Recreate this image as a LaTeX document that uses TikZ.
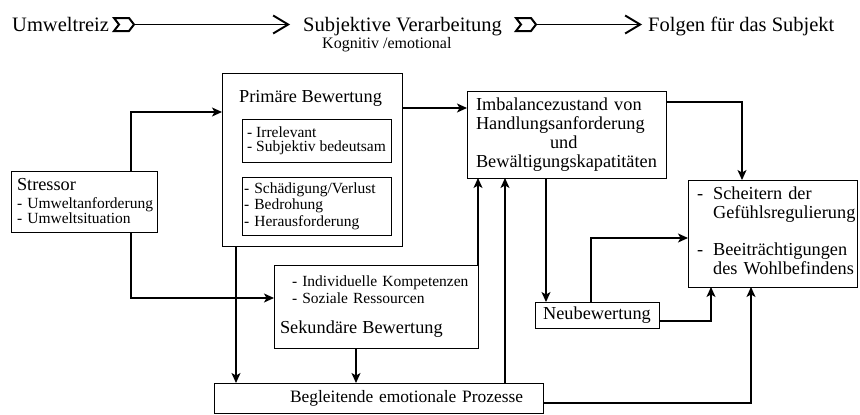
\documentclass[tikz,border=0pt]{standalone}
\usepackage{fontspec}
\setmainfont{Liberation Serif}
\usetikzlibrary{arrows.meta,positioning}

\newcommand{\headsz}{\fontsize{20.5}{24}\selectfont}
\newcommand{\mainsz}{\fontsize{18.3}{19}\selectfont}
\newcommand{\smallsz}{\fontsize{15.5}{15}\selectfont}
% tail of the arrows in the top row
\newcommand{\reiztail}[1]{\draw[tailmark] (#1) ++(0,-6.5) -- ++(15,0) -- ++(5,6.5) -- ++(-5,6.5) -- ++(-15,0) -- ++(5,-6.5) -- cycle;}

\begin{document}
\begin{tikzpicture}[x=1pt, y=-1pt,
        box/.style = {draw, line width=1pt, inner ysep=0pt, outer sep=0pt},
        conn/.style = {line width=1.1pt, -{Stealth[length=10pt,width=9pt,inset=2.5pt]}},
        toparrow/.style = {line width=1.9pt, -{Straight Barb[length=15pt,width=18pt]}},
        tailmark/.style = {line width=2pt, line join=miter}]
    \useasboundingbox (0,0) rectangle (860,415);

    % top row
    \node[anchor=base west, inner sep=0pt, font=\headsz] (reiz) at (12,31) {Umweltreiz};
    \node[anchor=base west, inner sep=0pt, font=\headsz] (verarb) at (303,31) {Subjektive Verarbeitung};
    \node[anchor=base west, inner sep=0pt, font=\fontsize{16}{18}\selectfont] (kogn) at (322,48) {Kognitiv /emotional};
    \node[anchor=base west, inner sep=0pt, font=\headsz] (folgen) at (648,31) {Folgen für das Subjekt};
    \coordinate (ta) at (114,24.5);
    \coordinate (tb) at (516,24.5);
    \reiztail{ta}
    \reiztail{tb}
    \draw[toparrow, shorten >=13pt] ([xshift=20pt]ta) -- (verarb.west |- ta);
    \draw[toparrow, shorten >=6pt] ([xshift=20pt]tb) -- (folgen.west |- tb);

    % boxes
    \node[box, minimum width=146pt, minimum height=61pt, text width=140pt, inner xsep=3pt, align=left, font=\smallsz] (stressor) at (84,201.5)
        {\hspace*{3pt}{\mainsz Stressor}\\[3pt] \hspace*{3pt}- Umweltanforderung\\ \hspace*{3pt}- Umweltsituation};
    \node[box, minimum width=180pt, minimum height=173pt] (prim) at (312,159.5) {};
    \node[anchor=base, inner sep=0pt, font=\mainsz] (primtitle) at (310.5,102) {Primäre Bewertung};
    \node[box, minimum width=149pt, minimum height=43pt, inner xsep=0pt, align=left, font=\fontsize{15.5}{14}\selectfont] (irrel) at (316.5,140.5)
        {- Irrelevant\\ - Subjektiv bedeutsam};
    \node[box, minimum width=149pt, minimum height=58pt, text width=145pt, inner xsep=2pt, align=left, font=\fontsize{15.5}{16.5}\selectfont] (schaed) at (316.5,206)
        {- Schädigung/Verlust\\ - Bedrohung\\ - Herausforderung};
    \node[box, minimum width=204pt, minimum height=83pt, text width=194pt, inner xsep=5pt, align=left, font=\fontsize{15.5}{17}\selectfont] (sek) at (376,306.5)
        {\hspace*{13pt}- Individuelle Kompetenzen\\ \hspace*{13pt}- Soziale Ressourcen\\[13pt] \hspace*{1pt}{\mainsz Sekundäre Bewertung}};
    \node[box, minimum width=199pt, minimum height=87pt, text width=185pt, inner xsep=7pt, align=left, font=\mainsz] (imb) at (566.5,134.5)
        {\hspace*{2pt}Imbalancezustand von\\ \hspace*{2pt}Handlungsanforderung\\ \hspace*{76pt}und\\ \hspace*{2pt}Bewältigungskapatitäten};
    \node[box, minimum width=169pt, minimum height=107pt, text width=163pt, inner xsep=3pt, align=left, font=\mainsz] (sch) at (772.5,233.5)
        {\hspace*{6pt}\begin{tabular}{@{}l@{\hspace{10pt}}l@{}}
            - & Scheitern der\\
              & Gefühlsregulierung\\[18pt]
            - & Beeiträchtigungen\\
              & des Wohlbefindens
        \end{tabular}};
    \node[box, minimum width=124pt, minimum height=26pt, font=\mainsz] (neu) at (597,315) {Neubewertung};
    \node[box, minimum width=329pt, minimum height=30pt, text width=289pt, inner xsep=20pt, align=right, font=\fontsize{17.4}{19}\selectfont] (begl) at (378.5,398)
        {Begleitende emotionale Prozesse};

    % columns and rows of the connectors
    \coordinate (xa) at (131,0);
    \coordinate (xb) at (236,0);
    \coordinate (xc) at (356,0);
    \coordinate (xd) at (505,0);
    \coordinate (xe) at (546,0);
    \coordinate (xf) at (591,0);
    \coordinate (xg) at (711,0);
    \coordinate (xh) at (742,0);
    \coordinate (xi) at (751,0);
    \coordinate (ya) at (0,112);
    \coordinate (yb) at (0,298);
    \coordinate (yc) at (0,108);
    \coordinate (yd) at (0,238);
    \coordinate (ye) at (0,102);
    \coordinate (yf) at (0,321);
    \coordinate (yg) at (0,403);

    % connectors
    \draw[conn] (stressor.north -| xa) |- (prim.west |- ya);
    \draw[conn] (stressor.south -| xa) |- (sek.west |- yb);
    \draw[conn] (prim.south -| xb) -- (begl.north -| xb);
    \draw[conn] (sek.south -| xc) -- (begl.north -| xc);
    \draw[conn] (prim.east |- yc) -- (imb.west |- yc);
    \draw[conn] (sek.north east) -- (imb.south -| sek.north east);
    \draw[conn] (begl.north -| xd) -- (imb.south -| xd);
    \draw[conn] (imb.south -| xe) -- (neu.north -| xe);
    \draw[conn] (neu.north -| xf) |- (sch.west |- yd);
    \draw[conn] (imb.east |- ye) -| (sch.north -| xh);
    \draw[conn] (neu.east |- yf) -| (sch.south -| xg);
    \draw[conn] (begl.east |- yg) -| (sch.south -| xi);
\end{tikzpicture}
\end{document}
